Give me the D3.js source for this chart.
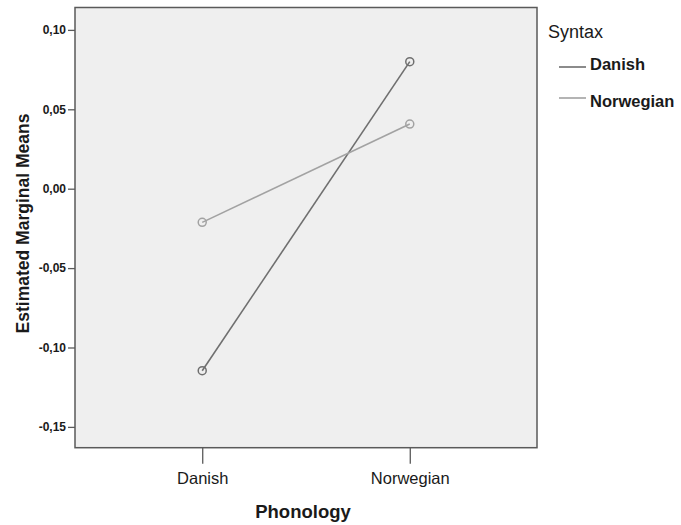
<!DOCTYPE html>
<html>
<head>
<meta charset="utf-8">
<script src="https://cdn.jsdelivr.net/npm/d3@7"></script>
<style>
  html, body { margin: 0; padding: 0; background: #ffffff; }
  svg { display: block; }
  text { font-family: "Liberation Sans", Arial, sans-serif; fill: #1a1a1a; }
</style>
</head>
<body>
<svg id="chart" width="681" height="525"></svg>
<script>
// ---- Data ----
const categories = ["Danish", "Norwegian"];           // Phonology (x axis)
const seriesNames = ["Danish", "Norwegian"];          // Syntax (legend)
const danishValues = [-0.1146, 0.0800];
const norwegianValues = [-0.0212, 0.0407];
const yTicks = [0.10, 0.05, 0.00, -0.05, -0.10, -0.15];
const yTickLabels = ["0,10", "0,05", "0,00", "-0,05", "-0,10", "-0,15"];
const xTitle = "Phonology";
const yTitle = "Estimated Marginal Means";
const legendTitle = "Syntax";

const series = [
  { name: seriesNames[0], values: danishValues, color: "#6f6f6f" },
  { name: seriesNames[1], values: norwegianValues, color: "#a2a2a2" }
];

// ---- Layout ----
const svg = d3.select("#chart");
const plot = { left: 75, right: 537, top: 7.5, bottom: 447.7 };

const x = d3.scalePoint().domain(categories).range([plot.left, plot.right]).padding(0.613);
const y = d3.scaleLinear().domain([-0.1631, 0.1141]).range([plot.bottom, plot.top]);

// plot background
svg.append("rect")
  .attr("x", plot.left).attr("y", plot.top)
  .attr("width", plot.right - plot.left).attr("height", plot.bottom - plot.top)
  .attr("fill", "#efefef").attr("stroke", "#5a5a5a").attr("stroke-width", 1.5);

// y axis
const yAxis = d3.axisLeft(y).tickValues(yTicks).tickSize(7).tickPadding(2)
  .tickFormat((d, i) => yTickLabels[i]);
const gy = svg.append("g").attr("transform", `translate(${plot.left},0)`).call(yAxis);
gy.select(".domain").remove();
gy.selectAll(".tick line").attr("stroke", "#5a5a5a").attr("stroke-width", 1.3);
gy.selectAll(".tick text").attr("font-size", 12).attr("font-weight", "bold")
  .style("font-family", "Liberation Sans, Arial, sans-serif").attr("fill", "#1a1a1a");

// x axis
const xAxis = d3.axisBottom(x).tickSize(16).tickPadding(9);
const gx = svg.append("g").attr("transform", `translate(0,${plot.bottom})`).call(xAxis);
gx.select(".domain").remove();
gx.selectAll(".tick line").attr("stroke", "#5a5a5a").attr("stroke-width", 1.3);
gx.selectAll(".tick text").attr("font-size", 16.5)
  .style("font-family", "Liberation Sans, Arial, sans-serif").attr("fill", "#1a1a1a");

// axis titles
svg.append("text")
  .attr("x", (plot.left + plot.right) / 2 - 3).attr("y", 518)
  .attr("text-anchor", "middle").attr("font-size", 18.5).attr("font-weight", "bold")
  .text(xTitle);

svg.append("text")
  .attr("transform", `translate(29,${(112 + 335) / 2}) rotate(-90)`)
  .attr("text-anchor", "middle").attr("font-size", 17.5).attr("font-weight", "bold")
  .text(yTitle);

// lines and markers
const line = d3.line().x((d, i) => x(categories[i])).y(d => y(d));
series.forEach(s => {
  svg.append("path").datum(s.values)
    .attr("d", line).attr("fill", "none")
    .attr("stroke", s.color).attr("stroke-width", 1.6);
  svg.selectAll(null).data(s.values).enter().append("circle")
    .attr("cx", (d, i) => x(categories[i])).attr("cy", d => y(d))
    .attr("r", 4).attr("fill", "none")
    .attr("stroke", s.color).attr("stroke-width", 1.5);
});

// legend
svg.append("text").attr("x", 548).attr("y", 38).attr("font-size", 18).text(legendTitle);
const legendY = [67, 98];
series.forEach((s, i) => {
  svg.append("line")
    .attr("x1", 559).attr("x2", 586).attr("y1", legendY[i]).attr("y2", legendY[i])
    .attr("stroke", s.color).attr("stroke-width", 1.6);
  svg.append("text").attr("x", 590).attr("y", legendY[i] + 2.5 + i * 6)
    .attr("font-size", 16.5).attr("font-weight", "bold").text(s.name);
});
</script>
</body>
</html>
